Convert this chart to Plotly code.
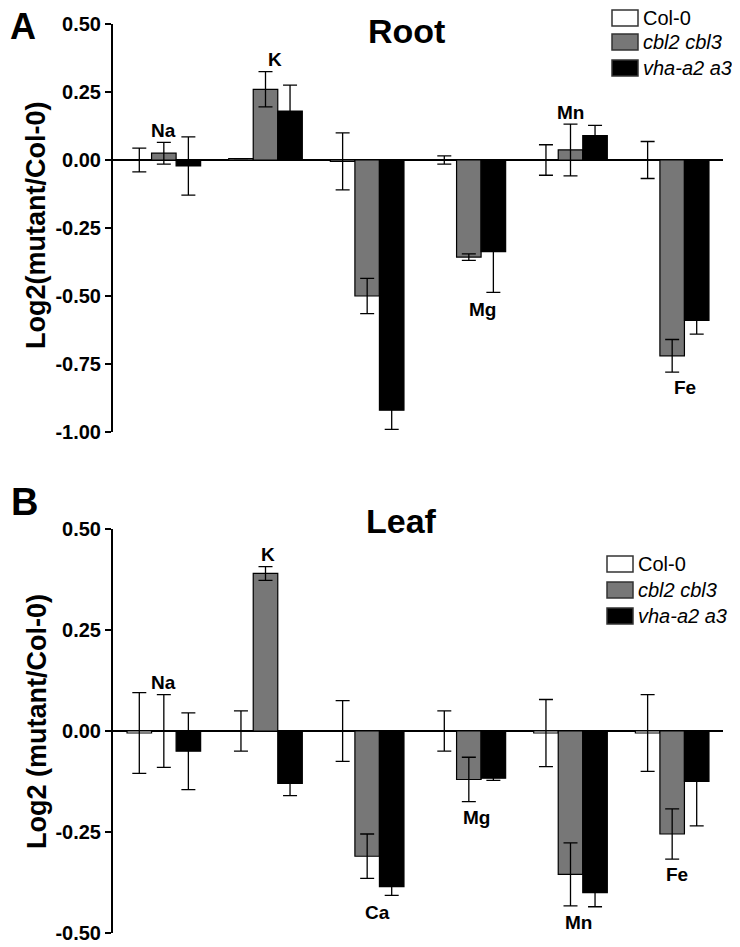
import plotly.graph_objects as go

# ---------------- data ----------------
elements = ["Na", "K", "Ca", "Mg", "Mn", "Fe"]
series_names = ["Col-0", "cbl2 cbl3", "vha-a2 a3"]

root_col0 = [0.0, 0.005, -0.005, 0.0, 0.0, 0.0]
root_col0_err = [0.044, 0.0, 0.105, 0.015, 0.056, 0.068]
root_cbl = [0.025, 0.26, -0.50, -0.357, 0.037, -0.72]
root_cbl_err = [0.04, 0.065, 0.065, 0.012, 0.095, 0.06]
root_vha = [-0.022, 0.18, -0.92, -0.337, 0.09, -0.59]
root_vha_err = [0.107, 0.095, 0.07, 0.15, 0.037, 0.05]

leaf_col0 = [-0.005, 0.0, 0.0, 0.0, -0.005, -0.005]
leaf_col0_err = [0.10, 0.05, 0.075, 0.05, 0.083, 0.095]
leaf_cbl = [0.0, 0.39, -0.31, -0.12, -0.355, -0.255]
leaf_cbl_err = [0.09, 0.017, 0.055, 0.055, 0.078, 0.062]
leaf_vha = [-0.05, -0.13, -0.385, -0.117, -0.40, -0.125]
leaf_vha_err = [0.095, 0.03, 0.022, 0.005, 0.035, 0.11]

root_ticks = [0.5, 0.25, 0.0, -0.25, -0.5, -0.75, -1.0]
leaf_ticks = [0.5, 0.25, 0.0, -0.25, -0.5]

# element label placement (x in category units, y in data units)
root_label_x = [0.0, 1.09, 2.05, 3.13, 4.0, 5.13]
root_label_y = [0.11, 0.368, -1.03, -0.55, 0.176, -0.835]
leaf_label_x = [0.0, 1.02, 2.1, 3.08, 4.08, 5.05]
leaf_label_y = [0.121, 0.436, -0.45, -0.215, -0.475, -0.356]

# ---------------- style ----------------
OFF = 8  # default page body margin
W, H = 740 - OFF, 947 - OFF
FONT = "Liberation Sans, Arial, sans-serif"
colors = ["white", "#777777", "black"]


def px(x):
    return (x - OFF) / W


def py(y):
    return (H - (y - OFF)) / H


def fmt(v):
    return f"{v:.2f}"  # hyphen minus, like the reference


fig = go.Figure()
xcat = list(range(len(elements)))

panels = [
    ("x", "y", [root_col0, root_cbl, root_vha], [root_col0_err, root_cbl_err, root_vha_err]),
    ("x2", "y2", [leaf_col0, leaf_cbl, leaf_vha], [leaf_col0_err, leaf_cbl_err, leaf_vha_err]),
]
for xa, ya, vals, errs in panels:
    for name, v, e, c in zip(series_names, vals, errs, colors):
        fig.add_trace(go.Bar(
            x=xcat, y=v, name=name, xaxis=xa, yaxis=ya, showlegend=False,
            marker=dict(color=c, line=dict(color="black", width=1.2)),
            error_y=dict(type="data", array=e, color="black", thickness=1.3, width=7),
        ))

xdom = [px(113), px(723)]
axis_common_y = dict(
    showline=True, linecolor="black", linewidth=2, ticks="outside", ticklen=6,
    tickwidth=1.8, tickcolor="black", showgrid=False, zeroline=True,
    zerolinecolor="black", zerolinewidth=1.6, automargin=False,
    tickfont=dict(family=FONT, size=20, color="black", weight="bold"),
)
axis_common_x = dict(
    range=[-0.5, 5.5], showline=False, showticklabels=False, ticks="",
    showgrid=False, zeroline=False, domain=xdom, automargin=False,
)

fig.update_layout(
    width=W, height=H, margin=dict(l=0, r=0, t=0, b=0, autoexpand=False),
    paper_bgcolor="white", plot_bgcolor="white",
    barmode="group", bargap=0.276, bargroupgap=0,
    xaxis=dict(anchor="y", **axis_common_x),
    xaxis2=dict(anchor="y2", **axis_common_x),
    yaxis=dict(anchor="x", domain=[py(432), py(24)], range=[-1.0, 0.5],
               tickvals=root_ticks, ticktext=[fmt(t) for t in root_ticks], **axis_common_y),
    yaxis2=dict(anchor="x2", domain=[py(933), py(529)], range=[-0.5, 0.5],
                tickvals=leaf_ticks, ticktext=[fmt(t) for t in leaf_ticks], **axis_common_y),
    showlegend=False,
)

ann = []
# element labels
for xr, yr, xl, yl in [("x", "y", root_label_x, root_label_y), ("x2", "y2", leaf_label_x, leaf_label_y)]:
    for el, xx, yy in zip(elements, xl, yl):
        ann.append(dict(x=xx, y=yy, xref=xr, yref=yr, text=f"<b>{el}</b>", showarrow=False,
                        xanchor="center", yanchor="middle",
                        font=dict(family=FONT, size=19, color="black")))


def paper_text(x, y, text, size, angle=0, xanchor="center"):
    return dict(x=px(x), y=py(y), xref="paper", yref="paper", text=text, showarrow=False,
                xanchor=xanchor, yanchor="middle", textangle=angle,
                font=dict(family=FONT, size=size, color="black"))


# panel titles and letters
ann += [
    paper_text(406, 31, "<b>Root</b>", 34),
    paper_text(401, 521, "<b>Leaf</b>", 34),
    paper_text(23, 27, "<b>A</b>", 36),
    paper_text(24, 502, "<b>B</b>", 38),
    paper_text(36, 226, "<b>Log2(mutant/Col-0)</b>", 27, angle=-90),
    paper_text(37, 722, "<b>Log2 (mutant/Col-0)</b>", 27, angle=-90),
]

# legends drawn as swatches + text
shapes = []
legend_specs = [(612, [18, 42, 68]), (607, [564, 590, 616])]
for x0, ycs in legend_specs:
    for name, c, yc in zip(series_names, colors, ycs):
        shapes.append(dict(type="rect", xref="paper", yref="paper",
                           x0=px(x0), x1=px(x0 + 26), y0=py(yc + 8), y1=py(yc - 8),
                           fillcolor=c, line=dict(color="#333333", width=1.5)))
        txt = name if name == "Col-0" else f"<i>{name}</i>"
        ann.append(paper_text(x0 + 29, yc, txt, 20, xanchor="left"))

fig.update_layout(annotations=ann, shapes=shapes)
fig.write_html("out.html")
